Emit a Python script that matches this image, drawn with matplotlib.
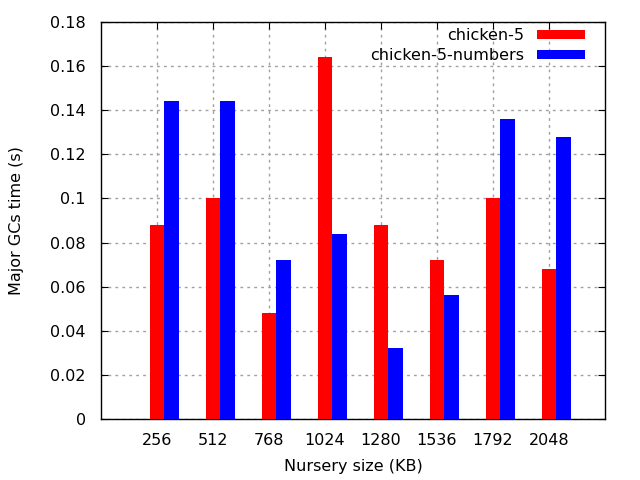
import matplotlib
matplotlib.use("Agg")
import matplotlib.pyplot as plt
import numpy as np

categories = ["256", "512", "768", "1024", "1280", "1536", "1792", "2048"]
chicken5 = [0.088, 0.100, 0.048, 0.164, 0.088, 0.072, 0.100, 0.068]
chicken5_numbers = [0.144, 0.144, 0.072, 0.084, 0.032, 0.056, 0.136, 0.128]
yticks = [0, 0.02, 0.04, 0.06, 0.08, 0.1, 0.12, 0.14, 0.16, 0.18]
ytick_labels = ["0", "0.02", "0.04", "0.06", "0.08", "0.1", "0.12", "0.14", "0.16", "0.18"]

plt.rcParams['font.family'] = ['DejaVu Sans']
fig = plt.figure(figsize=(6.4, 4.8), dpi=100)
ax = fig.add_axes([101/640, 1-419/480, 504/640, 397/480])

x = np.arange(1, len(categories) + 1)
w = 0.26
ax.bar(x, chicken5, w, color='#ff0000', label='chicken-5', zorder=3)
ax.bar(x + w, chicken5_numbers, w, color='#0000ff', label='chicken-5-numbers', zorder=3)

fs = 11.5
ax.set_xlim(0, 9)
ax.set_ylim(0, 0.18)
ax.set_xticks(x)
ax.set_xticklabels(categories)
ax.set_yticks(yticks)
ax.set_yticklabels(ytick_labels)
ax.tick_params(direction='in', top=True, right=True, labelsize=fs, length=5)
ax.tick_params(axis='y', pad=11)
ax.tick_params(axis='x', pad=10)
ax.grid(True, color='#a0a0a0', linestyle=(0, (2, 3)), linewidth=1, zorder=0)
for s in ax.spines.values():
    s.set_linewidth(1)
ax.set_xlabel("Nursery size (KB)", fontsize=fs, labelpad=8)
ax.set_ylabel("Major GCs time (s)", fontsize=fs, labelpad=19)
leg = ax.legend(loc='upper right', frameon=False, markerfirst=False, fontsize=fs,
                handlelength=3.0, handleheight=0.5, handletextpad=0.8,
                borderaxespad=0.0, labelspacing=0.28,
                bbox_to_anchor=(0.973, 1.0))
fig.savefig("out.png", dpi=100)
